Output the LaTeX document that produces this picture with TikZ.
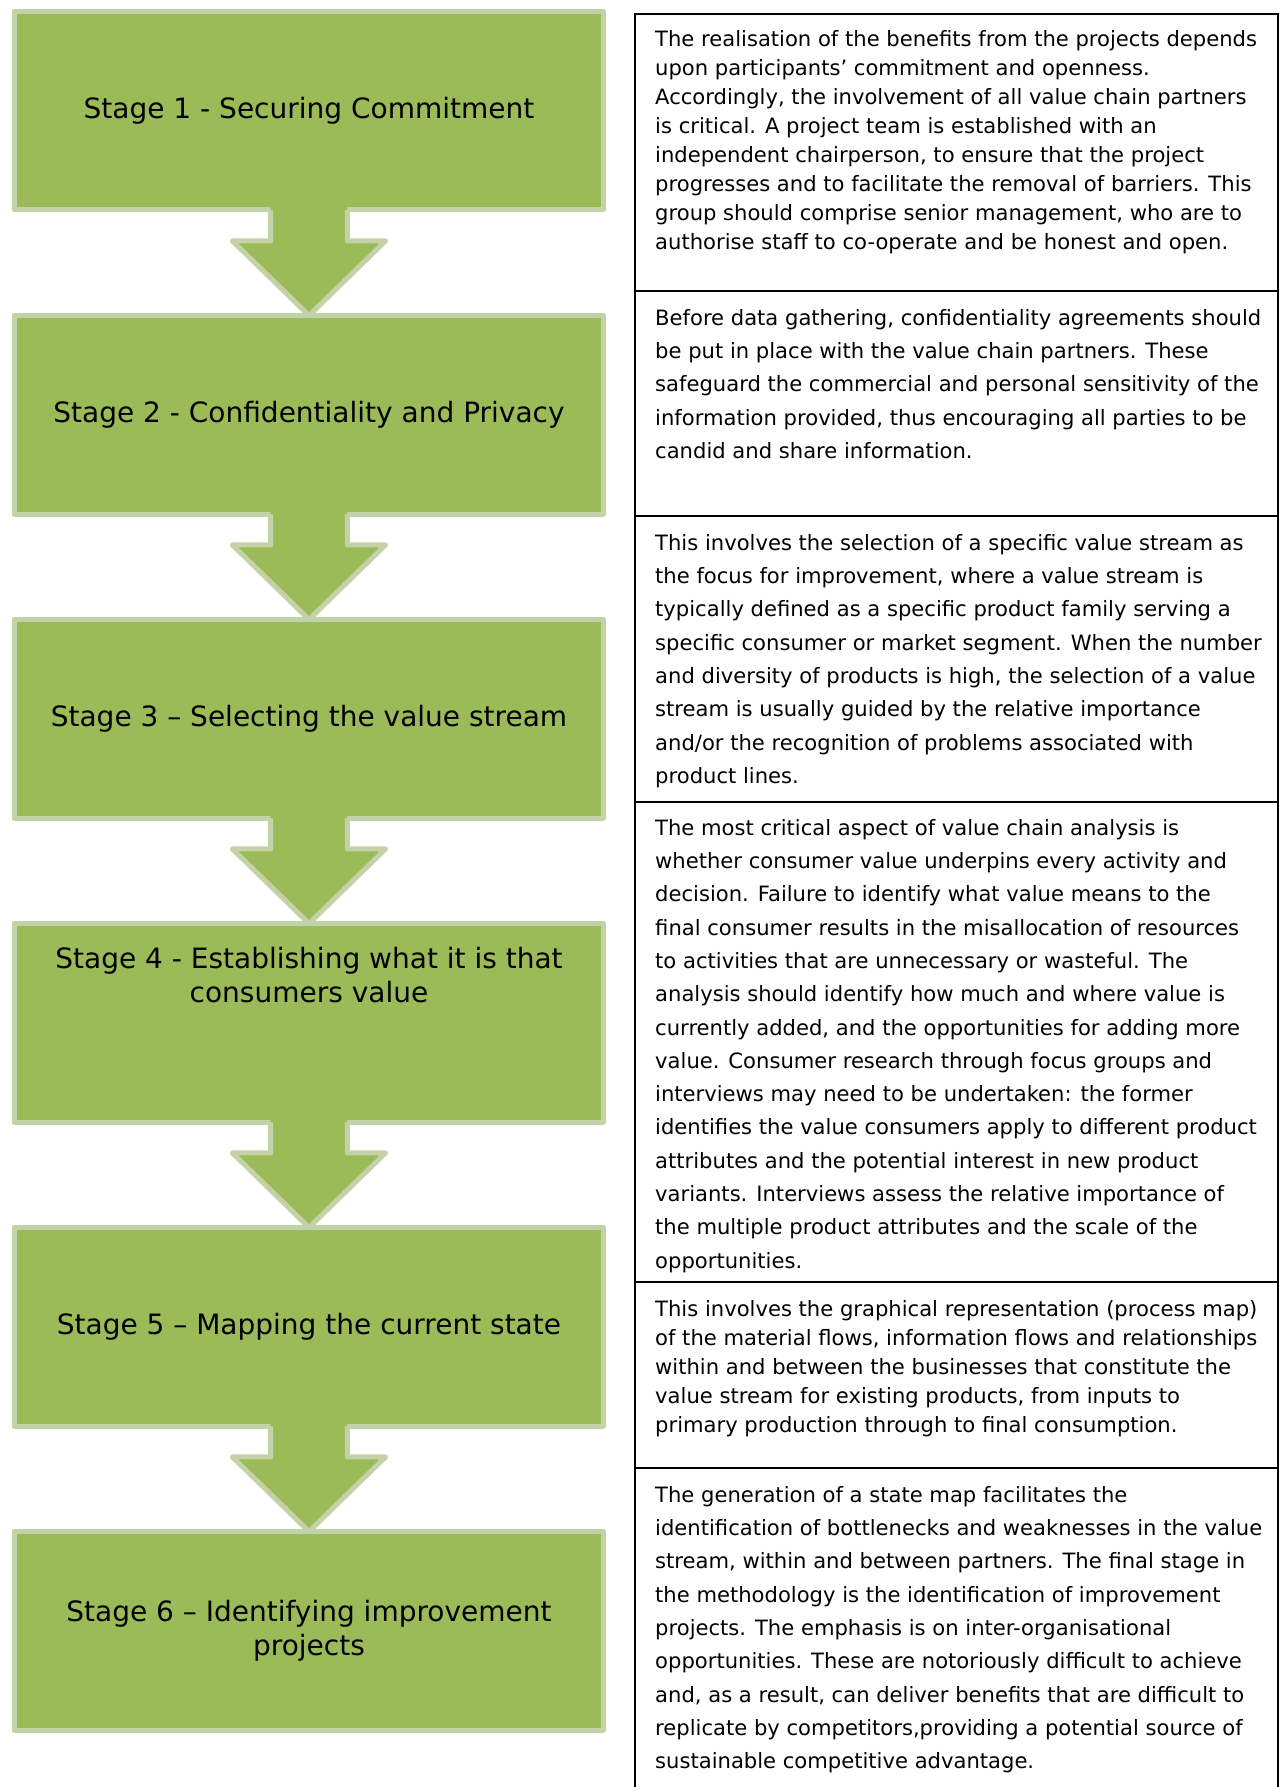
\documentclass[tikz,border=0pt]{standalone}
\usepackage{fontspec}
\setmainfont{DejaVu Sans}
\usepackage{xcolor}
\usetikzlibrary{positioning,calc}
\definecolor{stagegreen}{RGB}{155,187,89}
\definecolor{stageedge}{RGB}{196,210,168}
\tikzset{%
	stagebox/.style = {draw=stageedge, fill=stagegreen, line width=5pt,
		line join=round, rectangle, outer sep=0pt, inner sep=0pt,
		minimum width=589pt, minimum height=198.5pt, align=center,
		font=\fontsize{28}{34}\selectfont},
	flowedge/.style = {draw=stageedge, line width=5pt, line join=round},
	rowline/.style  = {draw=black, line width=2pt},
	desc/.style     = {anchor=north west, align=left, inner sep=0pt,
		font=\fontsize{21.1}{33.3}\selectfont,
		execute at begin node={\rule{0pt}{18pt}}},
	narrow/.style   = {font=\fontsize{21.1}{#1}\selectfont}
}
\begin{document}
\begin{tikzpicture}[x=1pt, y=1pt, node distance=105.5pt]
          \def\sw{38.4}
          \def\hw{76.7}
          \def\hd{30.8}
        \useasboundingbox (0,0) rectangle (1282,-1787);
        \draw
            node at (309,-110.75)[stagebox, name=st1]{Stage 1 - Securing Commitment}
            node [stagebox, below=of st1] (st2) {Stage 2 - Confidentiality and Privacy}
            node [stagebox, below=of st2] (st3) {Stage 3 -- Selecting the value stream}
            node [stagebox, below=of st3] (st4) {Stage 4 - Establishing what it is that\\consumers value\\[62pt]\mbox{}}
            node [stagebox, below=of st4] (st5) {Stage 5 -- Mapping the current state}
            node [stagebox, below=of st5] (st6) {Stage 6 -- Identifying improvement\\projects};

        \foreach \a/\b in {st1/st2, st2/st3, st3/st4, st4/st5, st5/st6} {
            \fill[stagegreen] ($(\a.south)+(-\sw,3)$) -- ($(\a.south)+(-\sw,-\hd)$)
                -- ($(\a.south)+(-\hw,-\hd)$) -- (\b.north)
                -- ($(\a.south)+(\hw,-\hd)$) -- ($(\a.south)+(\sw,-\hd)$)
                -- ($(\a.south)+(\sw,3)$) -- cycle;
            \draw[flowedge] ($(\a.south)+(-\sw,0)$) -- ($(\a.south)+(-\sw,-\hd)$)
                -- ($(\a.south)+(-\hw,-\hd)$) -- (\b.north)
                -- ($(\a.south)+(\hw,-\hd)$) -- ($(\a.south)+(\sw,-\hd)$)
                -- ($(\a.south)+(\sw,0)$);
        }

        \draw[rowline] (635,-1787) -- (635,-14) -- (1278,-14) -- (1278,-1787);
        \foreach \y in {291,516,801.7,1282,1468}
            \draw[rowline] (635,-\y) -- (1278,-\y);

        \node [desc, narrow=29] (desc1) at (655,-30) {The realisation of the benefits from the projects depends\\upon participants' commitment and openness.\\Accordingly, the involvement of all value chain partners\\is critical. A project team is established with an\\independent chairperson, to ensure that the project\\progresses and to facilitate the removal of barriers. This\\group should comprise senior management, who are to\\authorise staff to co-operate and be honest and open.};
        \node [desc] (desc2) at (655,-309) {Before data gathering, confidentiality agreements should\\be put in place with the value chain partners. These\\safeguard the commercial and personal sensitivity of the\\information provided, thus encouraging all parties to be\\candid and share information.};
        \node [desc] (desc3) at (655,-534) {This involves the selection of a specific value stream as\\the focus for improvement, where a value stream is\\typically defined as a specific product family serving a\\specific consumer or market segment. When the number\\and diversity of products is high, the selection of a value\\stream is usually guided by the relative importance\\and/or the recognition of problems associated with\\product lines.};
        \node [desc] (desc4) at (655,-819) {The most critical aspect of value chain analysis is\\whether consumer value underpins every activity and\\decision. Failure to identify what value means to the\\final consumer results in the misallocation of resources\\to activities that are unnecessary or wasteful. The\\analysis should identify how much and where value is\\currently added, and the opportunities for adding more\\value. Consumer research through focus groups and\\interviews may need to be undertaken: the former\\identifies the value consumers apply to different product\\attributes and the potential interest in new product\\variants. Interviews assess the relative importance of\\the multiple product attributes and the scale of the\\opportunities.};
        \node [desc, narrow=29] (desc5) at (655,-1300) {This involves the graphical representation (process map)\\of the material flows, information flows and relationships\\within and between the businesses that constitute the\\value stream for existing products, from inputs to\\primary production through to final consumption.};
        \node [desc, narrow=33.3] (desc6) at (655,-1486) {The generation of a state map facilitates the\\identification of bottlenecks and weaknesses in the value\\stream, within and between partners. The final stage in\\the methodology is the identification of improvement\\projects. The emphasis is on inter-organisational\\opportunities. These are notoriously difficult to achieve\\and, as a result, can deliver benefits that are difficult to\\replicate by competitors,providing a potential source of\\sustainable competitive advantage.};
    \end{tikzpicture}
\end{document}
